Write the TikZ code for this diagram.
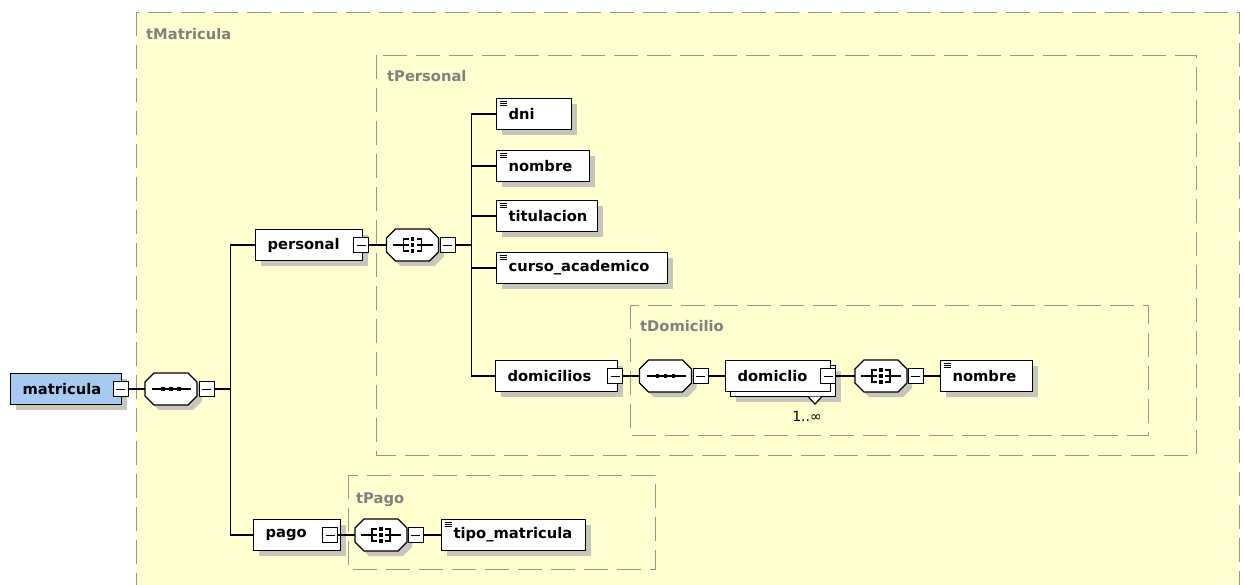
\documentclass[tikz,border=0pt]{standalone}
\usepackage{fontspec}
\setmainfont{DejaVu Sans}
\usetikzlibrary{shadows}

\definecolor{paper}{RGB}{255,255,208}
\definecolor{framegray}{RGB}{150,150,136}
\definecolor{labelgray}{RGB}{128,128,128}
\definecolor{rootblue}{RGB}{166,202,240}
\definecolor{shadowgray}{RGB}{198,198,188}

\newcommand\diagfont{\fontsize{14.7}{17}\selectfont\bfseries}

% outline of a compositor (sequence / choice) symbol, centred on the origin
\newcommand\octoutline{(-17,-16) -- (17,-16) -- (26,-7) -- (26,7) -- (17,16) -- (-17,16) -- (-26,7) -- (-26,-7) -- cycle}

% sequence mark: a line with three dots
\newcommand\seqicon{%
  \draw[line width=1.2pt] (-19,0) -- (20,0);
  \foreach \dx in {-8,0,8} \fill (\dx-1.9,-1.9) rectangle (\dx+1.9,1.9);}

% choice mark: two brackets round a column of dots
\newcommand\choiceicon{%
  \draw[line width=1.2pt] (-20,0) -- (-9,0) (9,0) -- (20,0);
  \draw[line width=1.2pt] (-4,-6) -- (-9,-6) -- (-9,6) -- (-4,6) (-9,0) -- (-4,0);
  \draw[line width=1.2pt] (4,-6) -- (9,-6) -- (9,6) -- (4,6) (9,0) -- (4,0);
  \foreach \dy in {-6,0,6} \fill (-1.9,\dy-1.9) rectangle (1.9,\dy+1.9);}

% compositor: name, x, y, mark
\newcommand\octgroup[4]{%
  \begin{scope}[shift={(#2,#3)}]
    \fill[shadowgray, shift={(5,5)}] \octoutline;
    \filldraw[fill=white, draw=black, line width=1.2pt] \octoutline;
    \node[octnode] (#1) at (0,0) {};
    #4
  \end{scope}}

\begin{document}
\begin{tikzpicture}[x=1pt,y=-1pt,
  frame/.style={draw=framegray, line width=0.9pt, dash pattern=on 24pt off 9pt},
  framelabel/.style={font=\diagfont, text=labelgray, anchor=base west, inner sep=0pt},
  elemplain/.style={draw=black, fill=white, line width=1.2pt, minimum height=31pt,
    inner xsep=12pt, inner ysep=0pt, align=left, font=\diagfont, anchor=west},
  elem/.style={elemplain, drop shadow={shadow xshift=5pt, shadow yshift=-5pt, opacity=1, fill=shadowgray}},
  leaf/.style={elem, path picture={
    \foreach \k in {3,5,7}
      \draw[line width=0.7pt] ([xshift=3pt,yshift=-\k pt]path picture bounding box.north west) -- ++(7pt,0);}},
  minus/.style={draw=black, fill=white, line width=1pt, minimum width=15pt, minimum height=15pt,
    inner sep=0pt, path picture={
    \draw[line width=1pt] ([xshift=-4.5pt]path picture bounding box.center) -- ([xshift=4.5pt]path picture bounding box.center);}},
  octnode/.style={rectangle, minimum width=52pt, minimum height=32pt, inner sep=0pt},
  wire/.style={draw=black, line width=1.2pt},
  card/.style={font=\fontsize{14}{16}\selectfont, inner sep=0pt}
]
\useasboundingbox (0,0) rectangle (1244,584);
\fill[white] (0,0) rectangle (1244,584);

% type frames
\path[frame, fill=paper] (136,12) rectangle (1239,610);
\node[framelabel] (lblMatricula) at (146,39) {tMatricula};
\path[frame] (376,55) rectangle (1196,455);
\node[framelabel] (lblPersonal) at (387,81) {tPersonal};
\path[frame] (630,305) rectangle (1148,435);
\node[framelabel] (lblDomicilio) at (640,331) {tDomicilio};
\path[frame] (348,475) rectangle (655,569);
\node[framelabel] (lblPago) at (356,503) {tPago};

% root element
\node[elem, fill=rootblue, text width=87pt] (matricula) at (10,389) {matricula};
\node[minus] (matm) at (120.5,389) {};
\octgroup{seq1}{171}{389}{\seqicon}
\node[minus] (seq1m) at (206.5,389) {};

% personal branch
\node[elem, text width=83pt] (personal) at (255,245) {personal};
\node[minus] (persm) at (361,245) {};
\octgroup{c1}{412.5}{245}{\choiceicon}
\node[minus] (c1m) at (447.5,245) {};

\node[leaf, text width=51pt] (dni) at (496,114) {dni};
\node[leaf, text width=69pt] (nombre) at (496,166) {nombre};
\node[leaf, text width=77pt] (titulacion) at (496,216) {titulacion};
\node[leaf, text width=147pt] (curso) at (496,268) {curso\_academico};
\node[elem, text width=98pt] (domicilios) at (495,376) {domicilios};
\node[minus] (domsm) at (615,376) {};

\octgroup{seq2}{665.5}{376}{\seqicon}
\node[minus] (seq2m) at (700.5,376) {};

% repeated element drawn as a stack of two boxes
\node[elem, text width=81pt] (domiclioback) at (730,381) {};
\filldraw[fill=white, draw=black, line width=1.2pt] (808,396.5) -- (815,404) -- (822,396.5);
\node[elemplain, text width=81pt] (domiclio) at (725,376) {domiclio};
\node[minus] (domcm) at (828,376) {};
\node[card] (card) at (807,416) {1..∞};

\octgroup{c2}{881}{376}{\choiceicon}
\node[minus] (c2m) at (915.5,376) {};
\node[leaf, text width=68pt] (nombre2) at (940,376) {nombre};

% pago branch
\node[elem, text width=63pt] (pago) at (253,535) {pago};
\node[minus] (pagom) at (330,535) {};
\octgroup{c3}{381}{535}{\choiceicon}
\node[minus] (c3m) at (415.5,535) {};
\node[leaf, text width=120pt] (tipo) at (441,535) {tipo\_matricula};

% connectors
\draw[wire] (matm.east) -- (seq1.west);
\draw[wire] (seq1m.east) -- ++(16,0) |- (personal.west);
\draw[wire] (seq1m.east) -- ++(16,0) |- (pago.west);
\draw[wire] (persm.east) -- (c1.west);
\foreach \n in {dni,nombre,titulacion,curso,domicilios}
  \draw[wire] (c1m.east) -- ++(16,0) |- (\n.west);
\draw[wire] (domsm.east) -- (seq2.west);
\draw[wire] (seq2m.east) -- (domiclio.west);
\draw[wire] (domcm.east) -- (c2.west);
\draw[wire] (c2m.east) -- (nombre2.west);
\draw[wire] (pagom.east) -- (c3.west);
\draw[wire] (c3m.east) -- (tipo.west);
\end{tikzpicture}
\end{document}
